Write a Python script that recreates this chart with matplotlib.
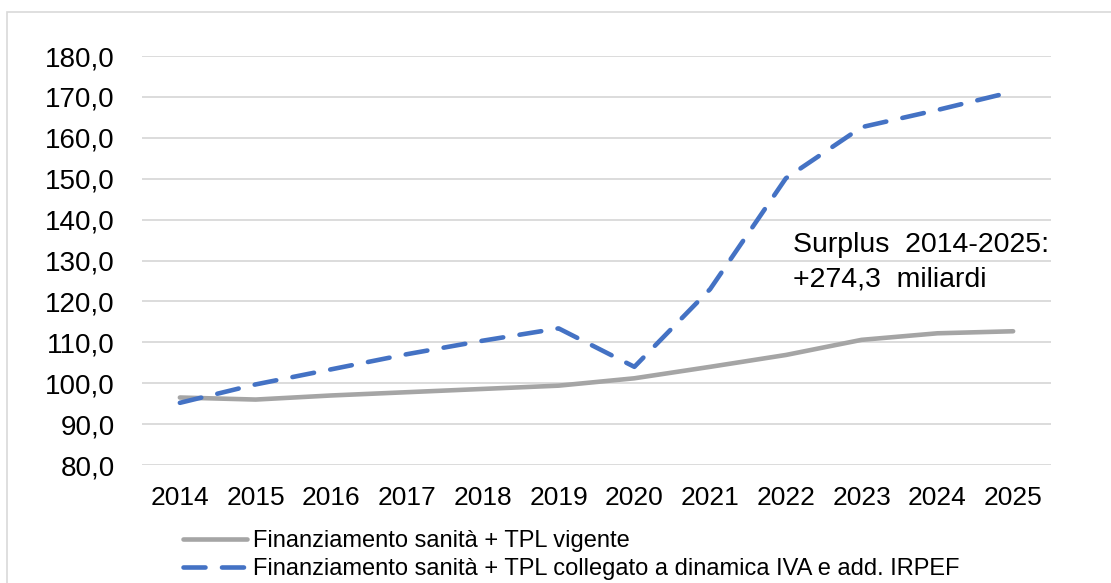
import matplotlib.pyplot as plt
from matplotlib.patches import Rectangle

years = [2014, 2015, 2016, 2017, 2018, 2019, 2020, 2021, 2022, 2023, 2024, 2025]
vigente = [96.5, 96.0, 97.0, 97.8, 98.6, 99.4, 101.2, 104.0, 106.9, 110.6, 112.2, 112.7]
collegato = [95.2, 99.7, 103.4, 107.1, 110.4, 113.4, 104.0, 123.0, 150.1, 162.6, 166.8, 171.3]
yticks = [80, 90, 100, 110, 120, 130, 140, 150, 160, 170, 180]

label_vigente = "Finanziamento sanità + TPL vigente"
label_collegato = "Finanziamento sanità + TPL collegato a dinamica IVA e add. IRPEF"

plt.rcParams["font.family"] = ["Liberation Sans", "DejaVu Sans"]

W, H = 1111, 583
fig = plt.figure(figsize=(W / 100, H / 100), dpi=100)
ax = fig.add_axes([142 / W, 1 - 465 / H, (1051 - 142) / W, (465 - 56) / H])

# outer frame like the Excel chart area
fig.patches.append(Rectangle((7 / W, -0.05), 1.1, 1 - 12 / H + 0.05,
                             transform=fig.transFigure, fill=False,
                             edgecolor="#d9d9d9", linewidth=1.2))

x = list(range(len(years)))
ax.plot(x, vigente, color="#a5a5a5", linewidth=3.3, solid_capstyle="round",
        label=label_vigente, zorder=3)
ax.plot(x, collegato, color="#4472c4", linewidth=3.3, dashes=(4.8, 3.6),
        dash_capstyle="round", label=label_collegato, zorder=3)

ax.set_xlim(-0.5, len(years) - 0.5)
ax.set_ylim(80, 180)
ax.set_yticks(yticks)
ax.set_yticklabels([f"{v:.1f}".replace(".", ",") for v in yticks])
ax.set_xticks(x)
ax.set_xticklabels([str(y) for y in years])
ax.tick_params(axis="both", length=0, colors="#000000")
ax.tick_params(axis="y", pad=19.5, labelsize=20)
ax.tick_params(axis="x", pad=15, labelsize=19)
ax.grid(axis="y", color="#d9d9d9", linewidth=1.3)
ax.set_axisbelow(True)
for s in ax.spines.values():
    s.set_visible(False)

ax.text(8.1, 137.0, "Surplus  2014-2025:\n+274,3  miliardi", fontsize=20.5,
        ha="left", va="top", linespacing=1.42)

fig.legend(loc="upper left", bbox_to_anchor=(183 / W, 1 - 530 / H),
           frameon=False, fontsize=17, handlelength=2.7, handletextpad=0.27,
           labelspacing=0.27, borderpad=0, borderaxespad=0)

fig.savefig("out.png", dpi=100)
